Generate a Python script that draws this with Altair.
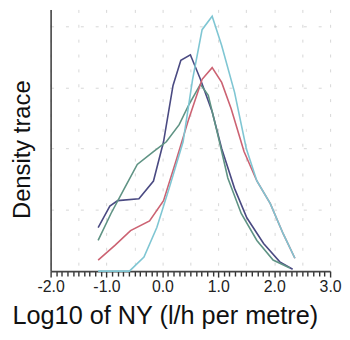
import altair as alt
import pandas as pd

# Series (x: log10 NY, y: density trace, arbitrary units)
navy_x = [-1.15, -0.94, -0.80, -0.42, -0.16, 0.02, 0.19, 0.33, 0.50, 0.68, 0.89, 1.06, 1.29, 1.51, 1.81, 2.10, 2.33]
navy_y = [0.71, 1.06, 1.15, 1.18, 1.47, 2.11, 3.03, 3.44, 3.53, 3.13, 2.60, 2.00, 1.35, 0.87, 0.45, 0.15, 0.03]

green_x = [-1.15, -0.92, -0.68, -0.45, -0.16, 0.07, 0.30, 0.47, 0.68, 0.82, 0.99, 1.17, 1.41, 1.69, 1.98, 2.28]
green_y = [0.50, 0.94, 1.35, 1.74, 1.95, 2.11, 2.39, 2.71, 3.05, 2.87, 2.23, 1.52, 0.94, 0.50, 0.18, 0.05]

red_x = [-1.15, -0.85, -0.57, -0.23, 0.02, 0.24, 0.47, 0.71, 0.89, 1.06, 1.23, 1.46, 1.69, 1.93, 2.16, 2.37]
red_y = [0.18, 0.42, 0.66, 0.82, 1.15, 1.79, 2.48, 3.13, 3.32, 3.08, 2.65, 1.95, 1.47, 1.10, 0.61, 0.21]

cyan_x = [-1.15, -0.59, -0.33, -0.10, 0.12, 0.37, 0.54, 0.71, 0.89, 1.06, 1.29, 1.50, 1.69, 1.93, 2.16, 2.37]
cyan_y = [0.00, 0.00, 0.23, 0.71, 1.35, 2.11, 3.13, 3.94, 4.16, 3.68, 2.92, 2.00, 1.47, 1.10, 0.61, 0.21]

series_names = ["navy", "green", "red", "cyan"]
series_colors = ["#4a4a82", "#5f9384", "#cc6272", "#7fc6d3"]

rows = []
for name, xs, ys in zip(series_names,
                        [navy_x, green_x, red_x, cyan_x],
                        [navy_y, green_y, red_y, cyan_y]):
    for i, (xv, yv) in enumerate(zip(xs, ys)):
        rows.append({"series": name, "order": i, "x": xv, "y": yv})
df = pd.DataFrame(rows)

x_ticks = [round(-2 + 0.1 * i, 1) for i in range(51)]

is_int = "abs(datum.value - round(datum.value)) < 0.001"
label_expr = (is_int + " ? "
              "((datum.value < 0 ? '-' : '') + format(abs(datum.value), '.1f')) : ''")

chart = alt.Chart(df).mark_line(strokeWidth=1.6).encode(
    x=alt.X("x:Q",
            scale=alt.Scale(domain=[-2, 3], nice=False, zero=False),
            axis=alt.Axis(
                values=x_ticks,
                labelExpr=label_expr,
                labelOverlap=False,
                labelFlush=False,
                labelFont="Liberation Sans",
                labelFontSize=16,
                labelColor="#222",
                labelPadding=2,
                tickColor="#333",
                tickWidth=1.4,
                tickSize={"condition": {"test": is_int, "value": 6}, "value": 5},
                domainColor="#444",
                domainWidth=1.6,
                grid=True,
                gridColor="#bbbbbb",
                gridDash=[3, 12],
                gridOpacity={"condition": {"test": "abs(datum.value*2 - round(datum.value*2)) < 0.001", "value": 0.6}, "value": 0},
                title="Log10 of NY (l/h per metre)",
                titleFont="Liberation Sans",
                titleFontSize=25.5,
                titleFontWeight="normal",
                titleColor="#111",
                titleAnchor="start",
                titleAlign="left",
                titleBaseline="alphabetic",
                titleX=-39,
                titleY=53,
            )),
    y=alt.Y("y:Q",
            scale=alt.Scale(domain=[0, 4.27], nice=False),
            axis=alt.Axis(
                values=[1, 2, 3, 4],
                labels=False,
                ticks=False,
                domainColor="#444",
                domainWidth=1.6,
                grid=True,
                gridColor="#bbbbbb",
                gridDash=[3, 12],
                gridOpacity=0.6,
                title="Density trace",
                titleFont="Liberation Sans",
                titleFontSize=24,
                titleFontWeight="normal",
                titleColor="#111",
                titleAngle=270,
                titleAlign="center",
                titleBaseline="alphabetic",
                titleX=-21,
                titleY=141,
            )),
    color=alt.Color("series:N",
                    scale=alt.Scale(domain=series_names, range=series_colors),
                    legend=None),
    order="order:Q",
).properties(
    width=282,
    height=264,
    padding={"left": 2, "top": 0, "right": 0, "bottom": 0},
).configure_view(stroke=None)

chart.save("out.html", embed_options={"renderer": "svg", "actions": False})
